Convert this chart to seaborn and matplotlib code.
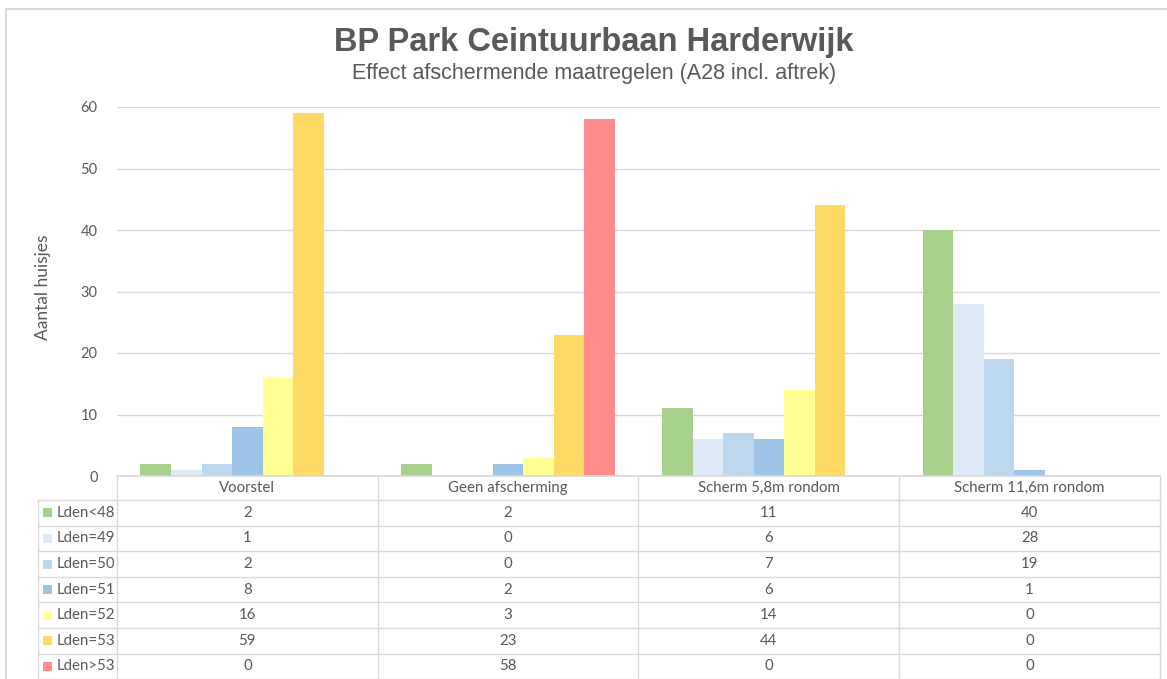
import pandas as pd
import numpy as np
import matplotlib
matplotlib.use("Agg")
import matplotlib.pyplot as plt
import seaborn as sns
from matplotlib.lines import Line2D
from matplotlib.patches import Rectangle

# Data
scenarios = ["Voorstel", "Geen afscherming", "Scherm 5,8m rondom", "Scherm 11,6m rondom"]
levels = ["Lden<48", "Lden=49", "Lden=50", "Lden=51", "Lden=52", "Lden=53", "Lden>53"]
lden_48 = [2, 2, 11, 40]
lden_49 = [1, 0, 6, 28]
lden_50 = [2, 0, 7, 19]
lden_51 = [8, 2, 6, 1]
lden_52 = [16, 3, 14, 0]
lden_53 = [59, 23, 44, 0]
lden_gt53 = [0, 58, 0, 0]
kleuren = ["#A9D18E", "#DEEBF7", "#BDD7EE", "#9DC3E6", "#FFFF94", "#FFD966", "#FF8B8B"]

series = [lden_48, lden_49, lden_50, lden_51, lden_52, lden_53, lden_gt53]
rows = []
for lev, vals in zip(levels, series):
    for sc, v in zip(scenarios, vals):
        rows.append({"scenario": sc, "niveau": lev, "aantal": v})
df = pd.DataFrame(rows)

sns.set_theme(style="white")
plt.rcParams['font.family'] = ['Lato', 'DejaVu Sans']
grijs = "#595959"
lijn = "#D9D9D9"

W, H = 1167, 679
fig = plt.figure(figsize=(W / 100, H / 100), dpi=100)

def fx(px):
    return px / W

def fy(py):
    return 1 - py / H

# Plot area
x0, x1, ytop, ybot = 117, 1160, 107, 476
ax = fig.add_axes([fx(x0), fy(ybot), fx(x1) - fx(x0), fy(ytop) - fy(ybot)])
sns.barplot(data=df, x="scenario", y="aantal", hue="niveau", order=scenarios,
            hue_order=levels, palette=kleuren, width=0.82, saturation=1,
            linewidth=0, ax=ax, legend=False)
ax.set_xlim(-0.5, 3.5)
ax.set_ylim(0, 60)
ax.set_yticks(range(0, 61, 10))
ax.yaxis.grid(True, color=lijn, linewidth=1)
ax.set_axisbelow(True)
ax.set_xticks([])
ax.set_xlabel("")
ax.set_ylabel("")
ax.tick_params(axis="y", length=0, colors=grijs, labelsize=10.5, pad=14)
for s in ax.spines.values():
    s.set_visible(False)
ax.spines["bottom"].set_visible(True)
ax.spines["bottom"].set_color(lijn)

fig.text(fx(43), fy(287), "Aantal huisjes", rotation=90, ha="center", va="center",
         color=grijs, fontsize=12.5)

# Titles
fig.text(fx(594), fy(42), "BP Park Ceintuurbaan Harderwijk", ha="center", va="center",
         fontsize=23.5, fontweight="bold", color=grijs,
         family=['Liberation Sans Narrow', 'Liberation Sans', 'DejaVu Sans'])
fig.text(fx(594), fy(74), "Effect afschermende maatregelen (A28 incl. aftrek)", ha="center",
         va="center", fontsize=15.5, color=grijs,
         family=['Liberation Sans Narrow', 'Liberation Sans', 'DejaVu Sans'])

# Outer chart border
fig.add_artist(Line2D([fx(6), fx(1167)], [fy(9), fy(9)], color=lijn, lw=1.5))
fig.add_artist(Line2D([fx(6), fx(6)], [fy(9), fy(679)], color=lijn, lw=1.5))

# Data table
col_x = [x0 + (x1 - x0) * i / 4 for i in range(5)]
lab_x = 38
hdr_top, hdr_bot = 476, 500
row_h = 25.6
row_y = [hdr_bot + row_h * i for i in range(len(levels) + 1)]

for cx in col_x:
    fig.add_artist(Line2D([fx(cx), fx(cx)], [fy(hdr_top), fy(679)], color=lijn, lw=1))
fig.add_artist(Line2D([fx(lab_x), fx(lab_x)], [fy(hdr_bot), fy(679)], color=lijn, lw=1))
for ry in row_y:
    fig.add_artist(Line2D([fx(lab_x), fx(x1)], [fy(ry), fy(ry)], color=lijn, lw=1))

for i, sc in enumerate(scenarios):
    cx = (col_x[i] + col_x[i + 1]) / 2
    fig.text(fx(cx), fy((hdr_top + hdr_bot) / 2), sc, ha="center", va="center",
             fontsize=10.8, color=grijs)

for r, (lev, vals, kl) in enumerate(zip(levels, series, kleuren)):
    cy = row_y[r] + row_h / 2
    fig.add_artist(Rectangle((fx(43), fy(cy + 4.5)), fx(9), fy(0) - fy(9),
                             facecolor=kl, edgecolor="none", transform=fig.transFigure))
    fig.text(fx(57), fy(cy), lev, ha="left", va="center", fontsize=10.8, color=grijs)
    for i, v in enumerate(vals):
        cx = (col_x[i] + col_x[i + 1]) / 2
        fig.text(fx(cx), fy(cy), str(v), ha="center", va="center", fontsize=10.8, color=grijs)

fig.savefig("out.png", dpi=100, facecolor="white")
